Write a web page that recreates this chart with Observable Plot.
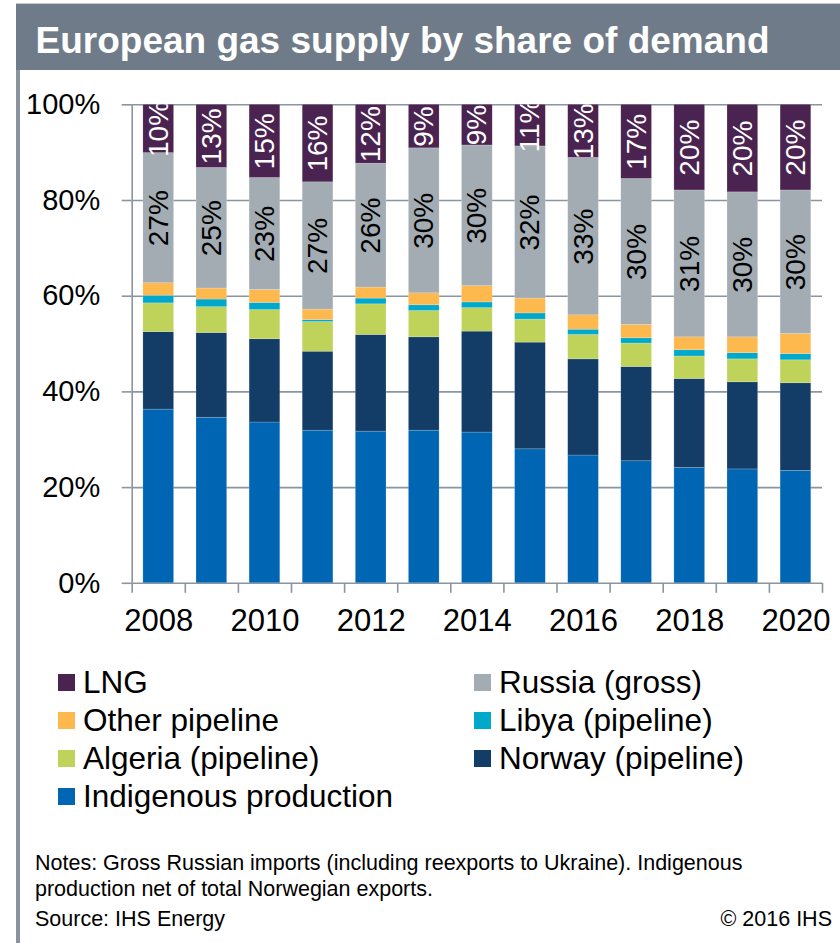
<!DOCTYPE html>
<html>
<head>
<meta charset="utf-8">
<script src="https://cdn.jsdelivr.net/npm/d3@7"></script>
<script src="https://cdn.jsdelivr.net/npm/@observablehq/plot@0.6"></script>
<style>
  html, body { margin: 0; padding: 0; background: #ffffff; }
  #page { position: relative; width: 840px; height: 943px; overflow: hidden; font-family: "Liberation Sans", Arial, Helvetica, sans-serif; color: #000; }
  #titlebar { position: absolute; left: 16px; top: 3px; width: 824px; height: 67px; background: #6f7b88; border-top: 1px solid #c3c8cd; box-sizing: border-box; }
  #title { position: absolute; left: 19.5px; top: 17.7px; font-size: 37px; line-height: 37px; font-weight: bold; color: #ffffff; white-space: nowrap; }
  #leftline { position: absolute; left: 16px; top: 70px; width: 4px; height: 873px; background: #8a949e; }
  #chart { position: absolute; left: 0; top: 76px; }
  #legend { position: absolute; left: 0; top: 663.1px; width: 840px; }
  .item { position: absolute; height: 38px; line-height: 38px; font-size: 31.5px; white-space: nowrap; }
  .sw { position: absolute; width: 17px; height: 17px; top: 10.9px; }
  .lbl { position: absolute; }
  #notes { position: absolute; left: 35px; top: 849.5px; font-size: 21.5px; line-height: 26px; white-space: nowrap; }
  #source { position: absolute; left: 35px; top: 905.5px; font-size: 21.5px; line-height: 26px; white-space: nowrap; }
  #copy { position: absolute; right: 8px; top: 905.5px; font-size: 21.5px; line-height: 26px; white-space: nowrap; }
</style>
</head>
<body>
<div id="page">
  <div id="titlebar"><div id="title">European gas supply by share of demand</div></div>
  <div id="leftline"></div>
  <div id="chart"></div>
  <div id="legend"></div>
  <div id="notes">Notes: Gross Russian imports (including reexports to Ukraine). Indigenous<br>production net of total Norwegian exports.</div>
  <div id="source">Source: IHS Energy</div>
  <div id="copy">© 2016 IHS</div>
</div>
<script>
// ---- Data (shares of demand, %) ----
const years = [2008, 2009, 2010, 2011, 2012, 2013, 2014, 2015, 2016, 2017, 2018, 2019, 2020];
const indigenous = [36.3, 34.6, 33.6, 31.9, 31.7, 31.9, 31.5, 28.0, 26.7, 25.5, 24.1, 23.8, 23.5];
const norway     = [16.2, 17.7, 17.4, 16.5, 20.2, 19.5, 21.1, 22.3, 20.1, 19.7, 18.6, 18.2, 18.3];
const algeria    = [6.0, 5.4, 6.1, 6.2, 6.4, 5.5, 4.9, 4.8, 5.1, 4.9, 4.7, 4.8, 4.8];
const libya      = [1.6, 1.6, 1.5, 0.4, 1.2, 1.2, 1.2, 1.3, 1.1, 1.1, 1.3, 1.3, 1.3];
const otherPipe  = [2.6, 2.3, 2.7, 2.2, 2.3, 2.5, 3.4, 3.1, 3.0, 2.8, 2.7, 3.3, 4.2];
const russia     = [27.2, 25.2, 23.4, 26.6, 25.9, 30.3, 29.4, 31.8, 32.9, 30.5, 30.7, 30.3, 30.0];
const lng        = [10.1, 13.2, 15.3, 16.2, 12.3, 9.1, 8.5, 8.7, 11.1, 15.5, 17.9, 18.3, 17.9];

const lngLabels    = ["10%", "13%", "15%", "16%", "12%", "9%", "9%", "11%", "13%", "17%", "20%", "20%", "20%"];
const russiaLabels = ["27%", "25%", "23%", "27%", "26%", "30%", "30%", "32%", "33%", "30%", "31%", "30%", "30%"];

const seriesNames = ["Indigenous production", "Norway (pipeline)", "Algeria (pipeline)", "Libya (pipeline)", "Other pipeline", "Russia (gross)", "LNG"];
const seriesColors = ["#0066b3", "#133c67", "#bfd35a", "#00a9cc", "#fdb84e", "#a2acb2", "#4b2350"];

const legendOrder = ["LNG", "Russia (gross)", "Other pipeline", "Libya (pipeline)", "Algeria (pipeline)", "Norway (pipeline)", "Indigenous production"];

const yTicks = [0, 20, 40, 60, 80, 100];
const xLabelYears = [2008, 2010, 2012, 2014, 2016, 2018, 2020];

// ---- Build table ----
const seriesValues = [indigenous, norway, algeria, libya, otherPipe, russia, lng];
const data = [];
years.forEach((year, i) => {
  seriesNames.forEach((s, k) => {
    let label = "";
    if (s === "LNG") label = lngLabels[i];
    if (s === "Russia (gross)") label = russiaLabels[i];
    data.push({year, series: s, value: seriesValues[k][i], label});
  });
});
const boundaries = [years[0] - 0.5, ...years.map(y => y + 0.5)];

const grey = "#8b959f";
const W = 840, H = 574;
const mL = 131.7, mR = 18, mT = 28.3, mB = 67.2;
const bandPx = (W - mL - mR) / years.length;
const inset = (bandPx - 30.7) / 2;

const chart = Plot.plot({
  width: W,
  height: H,
  marginLeft: mL,
  marginRight: mR,
  marginTop: mT,
  marginBottom: mB,
  style: {fontFamily: "'Liberation Sans', Arial, Helvetica, sans-serif", fontSize: "29px", background: "transparent", color: "#000"},
  x: {type: "linear", domain: [years[0] - 0.5, years[years.length - 1] + 0.5], axis: null},
  y: {domain: [0, 100], axis: null},
  color: {domain: seriesNames, range: seriesColors},
  marks: [
    Plot.ruleY(yTicks, {stroke: grey, strokeWidth: 1.6}),
    Plot.rectY(data, Plot.stackY({
      x1: d => d.year - 0.5, x2: d => d.year + 0.5, y: "value", fill: "series",
      insetLeft: inset, insetRight: inset,
      stroke: "#ffffff", strokeOpacity: 0.3, strokeWidth: 0.6
    })),
    Plot.ruleX([boundaries[0]], {stroke: grey, strokeWidth: 1.6}),
    Plot.axisY(yTicks, {label: null, tickSize: 10, tickPadding: 22, tickFormat: d => d + "%", stroke: grey, strokeWidth: 1.6, fill: "#000", fontSize: 29}),
    Plot.axisX(boundaries, {label: null, tickSize: 10, tickFormat: () => "", stroke: grey, strokeWidth: 1.6}),
    Plot.axisX(xLabelYears, {label: null, tickSize: 0, tickPadding: 26, tickFormat: d => String(d), fill: "#000", fontSize: 31}),
    Plot.text(data, Plot.stackY({
      x: "year", y: "value", text: d => d.series === "LNG" ? d.label : "",
      fill: "#ffffff", rotate: -90, fontSize: 28, clip: true
    })),
    Plot.text(data, Plot.stackY({
      x: "year", y: "value", text: d => d.series === "Russia (gross)" ? d.label : "",
      fill: "#000000", rotate: -90, fontSize: 28, clip: true
    }))
  ]
});
document.getElementById("chart").appendChild(chart);

// ---- Legend ----
const legend = document.getElementById("legend");
legendOrder.forEach((name, i) => {
  const col = i % 2, row = Math.floor(i / 2);
  const item = document.createElement("div");
  item.className = "item";
  item.style.left = (col === 0 ? 58 : 474) + "px";
  item.style.top = (row * 38) + "px";
  const sw = document.createElement("div");
  sw.className = "sw";
  sw.style.left = "0px";
  sw.style.background = seriesColors[seriesNames.indexOf(name)];
  const lbl = document.createElement("div");
  lbl.className = "lbl";
  lbl.style.left = "25px";
  lbl.textContent = name;
  item.appendChild(sw);
  item.appendChild(lbl);
  legend.appendChild(item);
});
</script>
</body>
</html>
